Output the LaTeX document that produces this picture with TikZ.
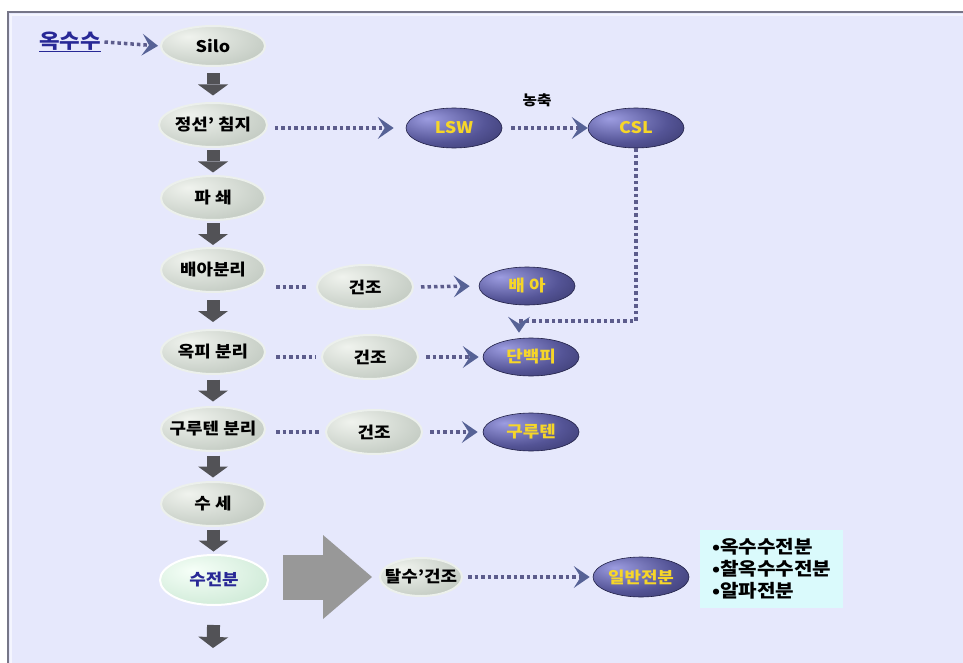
\documentclass[tikz,border=0pt]{standalone}
\usepackage{fontspec}
\setmainfont{Noto Sans CJK KR}[FakeStretch=1.12]
\usetikzlibrary{arrows.meta,shapes.geometric,calc}
\definecolor{bg}{RGB}{230,232,252}
\definecolor{framec}{RGB}{118,118,136}
\definecolor{dotc}{RGB}{92,92,140}
\definecolor{chev}{RGB}{86,98,150}
\definecolor{blockc}{RGB}{82,82,86}
\definecolor{bigc}{RGB}{152,152,152}
\definecolor{ylw}{RGB}{246,214,40}
\definecolor{cyanbox}{RGB}{218,250,252}
\definecolor{navy}{RGB}{40,40,150}
\definecolor{dhi}{RGB}{156,156,224}
\definecolor{dmid}{RGB}{84,84,150}
\definecolor{dlo}{RGB}{32,32,70}
\definecolor{ghi}{RGB}{240,243,238}
\definecolor{glo}{RGB}{176,186,176}
\definecolor{rim}{RGB}{236,240,236}
\definecolor{lghi}{RGB}{246,255,248}
\definecolor{lglo}{RGB}{184,222,196}
\pgfdeclareradialshading{darkball}{\pgfpoint{-14bp}{12bp}}{color(0bp)=(dhi);color(26bp)=(dmid);color(58bp)=(dlo);color(80bp)=(dlo)}
\pgfdeclareradialshading{grayball}{\pgfpoint{-12bp}{12bp}}{color(0bp)=(ghi);color(50bp)=(glo);color(80bp)=(glo)}
\pgfdeclareradialshading{greenball}{\pgfpoint{-10bp}{10bp}}{color(0bp)=(lghi);color(55bp)=(lglo);color(80bp)=(lglo)}
\tikzset{
  lbl/.style={font=\bfseries\fontsize{16}{16}\selectfont},
  proc/.style={ellipse, minimum width=104pt, minimum height=44pt, inner sep=0pt,
    shading=grayball, draw=rim, line width=2pt, lbl},
  dry/.style={proc, minimum width=96pt},
  prod/.style={ellipse, minimum width=96pt, minimum height=38pt, inner sep=0pt,
    shading=darkball, draw=dlo, line width=0.6pt, text=ylw, lbl},
  dotline/.style={draw=dotc, line width=3.5pt, dash pattern=on 3.5pt off 3pt},
  dotarrow/.style={dotline, -{Stealth[length=16pt,width=22pt,inset=7pt,line width=0pt,color=chev]}},
  blockarrow/.style={draw=blockc, line width=13pt, -{Triangle[length=11pt,width=30pt,line width=0pt]}},
  bigarrow/.style={draw=bigc, line width=45pt, -{Triangle[length=49pt,width=84pt,line width=0pt]}},
}
\newcommand{\blockdown}[2]{%
  \draw[blockarrow] ($(#1.south)!.5!(#2.north)+(0,-11)$) -- ($(#1.south)!.5!(#2.north)+(0,11)$);}
\begin{document}
\begin{tikzpicture}[x=1pt,y=-1pt]
\useasboundingbox (0,0) rectangle (963,663);
\fill[white] (0,0) rectangle (963,663);
\fill[bg] (8,12) rectangle (963,663);
\draw[white!55!bg, line width=2pt] (11,663) -- (11,15) -- (963,15);
\draw[framec, line width=2pt] (8,663) -- (8,12) -- (963,12);

% left column
\node[text=navy, font=\bfseries\fontsize{20}{20}\selectfont] (okk) at (70,42) {\underline{옥수수}};
\node[proc, minimum height=40pt] (silo) at (213,46) {Silo};
\node[proc] (jeong) at (213,125) {정선’ 침지};
\node[proc] (pa) at (213,198) {파 쇄};
\node[proc] (bae) at (213,270) {배아분리};
\node[proc] (okp) at (213,352) {옥피 분리};
\node[proc, inner xsep=-14pt, inner ysep=-4pt] (gu) at (213,429) {구루텐 분리};
\node[proc] (suse) at (213,504) {수 세};
\node[proc, shading=greenball, draw=white, minimum width=108pt, minimum height=50pt, text=navy] (sujeon) at (214,580) {수전분};
\coordinate (endc) at (213,648);

\blockdown{silo}{jeong}
\blockdown{jeong}{pa}
\blockdown{pa}{bae}
\blockdown{bae}{okp}
\blockdown{okp}{gu}
\blockdown{gu}{suse}
\blockdown{suse}{sujeon}
\draw[blockarrow, shorten <=19pt] (sujeon.south) -- (endc);

% right part
\node[prod, minimum height=40pt] (lsw) at (454,128) {LSW};
\node[prod, minimum height=40pt] (csl) at (636,128) {CSL};
\node[font=\bfseries\fontsize{14}{14}\selectfont] (nong) at (537,100) {농축};

\node[dry] (d1) at (365,287) {건조};
\node[dry] (d2) at (370,357) {건조};
\node[dry] (d3) at (374,432) {건조};
\node[prod] (baea) at (527,286) {배 아};
\node[prod] (danb) at (531,357) {단백피};
\node[prod] (guru) at (531,432) {구루텐};

\node[proc, minimum width=82pt, minimum height=38pt, inner xsep=-12pt, inner ysep=-6pt] (tal) at (421,577) {탈수’건조};
\node[prod, minimum height=40pt] (ilban) at (641,577) {일반전분};
\node[fill=cyanbox, anchor=north west, minimum width=143pt, minimum height=78pt,
  inner sep=6pt, align=left, font=\bfseries\fontsize{18}{22}\selectfont] (box) at (700,530)
  {•옥수수전분\\•찰옥수수전분\\•알파전분};

\coordinate (turn) at (519,321);

\draw[dotarrow, shorten >=2pt] (okk.east) -- (silo.west);
\draw[dotarrow, shorten <=7pt, shorten >=12pt] (jeong.east |- lsw) -- (lsw.west);
\draw[dotarrow, shorten <=9pt, shorten >=0pt] (lsw.east) -- (csl.west);
\draw[dotarrow, shorten >=5pt] (csl.south) -- (csl.south |- turn) -- (turn) -- (turn |- danb.north);

\draw[dotline, shorten <=10pt, shorten >=9pt] (bae.east |- d1) -- (d1.west);
\draw[dotline, shorten <=10pt, shorten >=5pt] (okp.east |- d2) -- (d2.west);
\draw[dotline, shorten <=10pt, shorten >=5pt] (gu.east |- d3) -- (d3.west);
\draw[dotarrow, shorten <=7pt, shorten >=9pt] (d1.east) -- (baea.west);
\draw[dotarrow, shorten <=7pt, shorten >=4pt] (d2.east) -- (danb.west);
\draw[dotarrow, shorten <=7pt, shorten >=5pt] (d3.east) -- (guru.west);

\draw[bigarrow, shorten <=14pt, shorten >=7pt] (sujeon.east |- tal) -- (tal.west);
\draw[dotarrow, shorten <=5pt, shorten >=3pt] (tal.east) -- (ilban.west);
\end{tikzpicture}
\end{document}
